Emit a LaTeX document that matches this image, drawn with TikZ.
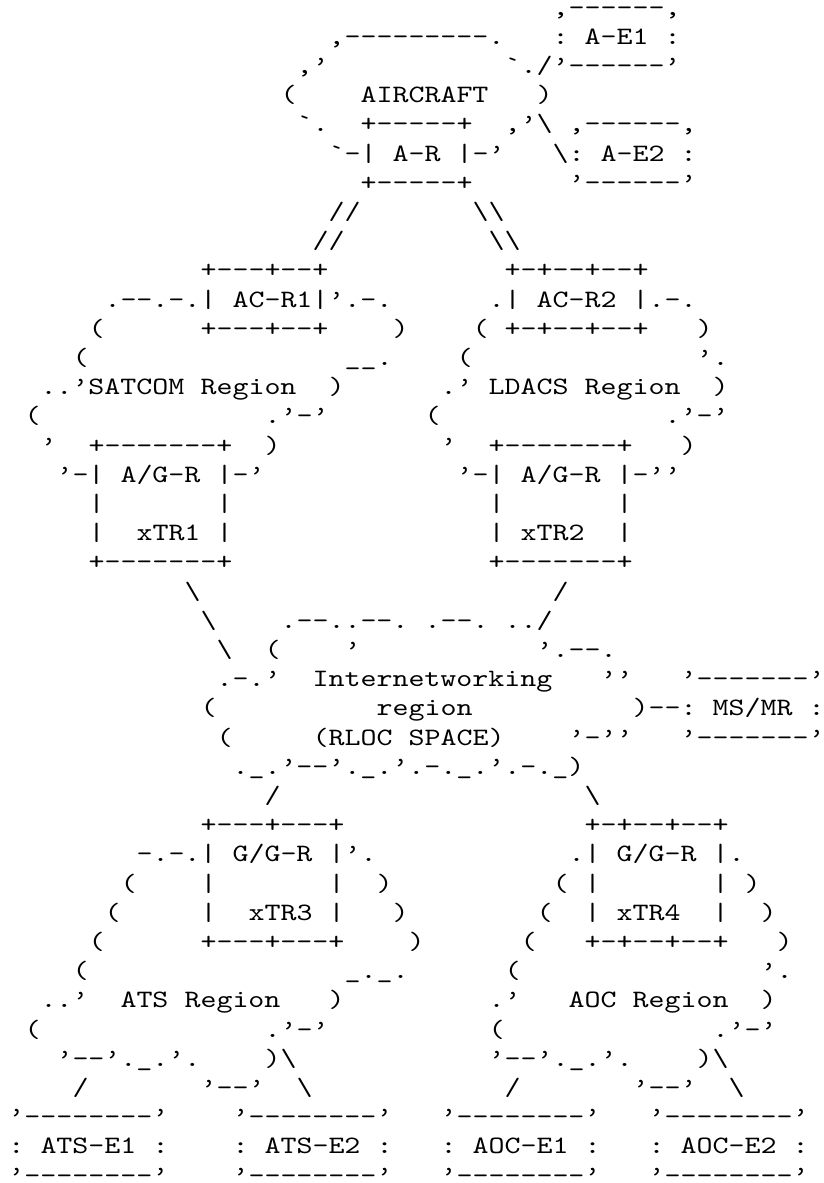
\documentclass[tikz,border=0pt]{standalone}
\usepackage{fontspec}
\setmonofont{lmmono10-regular.otf}[FakeStretch=1.219]
\newcommand\asciibs{\textbackslash}
\tikzset{ch/.style={anchor=base west, inner sep=0pt, outer sep=0pt, text=black,
  text height=14.5pt, text depth=0pt,
  font=\ttfamily\fontsize{25pt}{29pt}\selectfont}}
\newcommand\AR[3]{\node[ch] (r#1c#2) at ({8.5+16*#2},{15+29.2*(#1-1)}) {#3};}
\begin{document}
\begin{tikzpicture}[x=1pt,y=-1pt]
\fill[white] (0,0) rectangle (823,1183);
\useasboundingbox (0,0) rectangle (823,1183);
% AIRCRAFT region
\AR{1}{34}{,------,}
\AR{2}{20}{,---------.}\AR{2}{34}{:}\AR{2}{36}{A-E1}\AR{2}{41}{:}
\AR{3}{18}{,’}\AR{3}{31}{`./’------’}
\AR{4}{17}{(}\AR{4}{22}{AIRCRAFT}\AR{4}{33}{)}
\AR{5}{18}{`.}\AR{5}{22}{+-----+}\AR{5}{31}{,’\asciibs}\AR{5}{35}{,------,}
\AR{6}{20}{`-|}\AR{6}{24}{A-R}\AR{6}{28}{|-’}\AR{6}{34}{\asciibs:}\AR{6}{37}{A-E2}\AR{6}{42}{:}
\AR{7}{22}{+-----+}\AR{7}{35}{’------’}
\AR{8}{20}{//}\AR{8}{29}{\asciibs\asciibs}
\AR{9}{19}{//}\AR{9}{30}{\asciibs\asciibs}
% SATCOM and LDACS regions
\AR{10}{12}{+---+--+}\AR{10}{31}{+-+--+--+}
\AR{11}{6}{.--.-.|}\AR{11}{14}{AC-R1|’.-.}\AR{11}{30}{.|}\AR{11}{33}{AC-R2}\AR{11}{39}{|.-.}
\AR{12}{5}{(}\AR{12}{12}{+---+--+}\AR{12}{24}{)}\AR{12}{29}{(}\AR{12}{31}{+-+--+--+}\AR{12}{43}{)}
\AR{13}{4}{(}\AR{13}{21}{\_\_.}\AR{13}{28}{(}\AR{13}{43}{’.}
\AR{14}{2}{..’SATCOM}\AR{14}{12}{Region}\AR{14}{20}{)}\AR{14}{27}{.’}\AR{14}{30}{LDACS}\AR{14}{36}{Region}\AR{14}{44}{)}
\AR{15}{1}{(}\AR{15}{16}{.’-’}\AR{15}{26}{(}\AR{15}{41}{.’-’}
\AR{16}{2}{’}\AR{16}{5}{+-------+}\AR{16}{16}{)}\AR{16}{27}{’}\AR{16}{30}{+-------+}\AR{16}{42}{)}
\AR{17}{3}{’-|}\AR{17}{7}{A/G-R}\AR{17}{13}{|-’}\AR{17}{28}{’-|}\AR{17}{32}{A/G-R}\AR{17}{38}{|-’’}
\AR{18}{5}{|}\AR{18}{13}{|}\AR{18}{30}{|}\AR{18}{38}{|}
\AR{19}{5}{|}\AR{19}{8}{xTR1}\AR{19}{13}{|}\AR{19}{30}{|}\AR{19}{32}{xTR2}\AR{19}{38}{|}
\AR{20}{5}{+-------+}\AR{20}{30}{+-------+}
% Internetworking region
\AR{21}{11}{\asciibs}\AR{21}{34}{/}
\AR{22}{12}{\asciibs}\AR{22}{17}{.--..--.}\AR{22}{26}{.--.}\AR{22}{31}{../}
\AR{23}{13}{\asciibs}\AR{23}{16}{(}\AR{23}{21}{’}\AR{23}{33}{’.--.}
\AR{24}{13}{.-.’}\AR{24}{19}{Internetworking}\AR{24}{37}{’’}\AR{24}{42}{’-------’}
\AR{25}{12}{(}\AR{25}{23}{region}\AR{25}{39}{)--:}\AR{25}{44}{MS/MR}\AR{25}{50}{:}
\AR{26}{13}{(}\AR{26}{19}{(RLOC}\AR{26}{25}{SPACE)}\AR{26}{35}{’-’’}\AR{26}{42}{’-------’}
\AR{27}{14}{.\_.’--’.\_.’.-.\_.’.-.\_)}
\AR{28}{16}{/}\AR{28}{36}{\asciibs}
% ATS and AOC regions
\AR{29}{12}{+---+---+}\AR{29}{36}{+-+--+--+}
\AR{30}{8}{-.-.|}\AR{30}{14}{G/G-R}\AR{30}{20}{|’.}\AR{30}{35}{.|}\AR{30}{38}{G/G-R}\AR{30}{44}{|.}
\AR{31}{7}{(}\AR{31}{12}{|}\AR{31}{20}{|}\AR{31}{23}{)}\AR{31}{34}{(}\AR{31}{36}{|}\AR{31}{44}{|}\AR{31}{46}{)}
\AR{32}{6}{(}\AR{32}{12}{|}\AR{32}{15}{xTR3}\AR{32}{20}{|}\AR{32}{24}{)}\AR{32}{33}{(}\AR{32}{36}{|}\AR{32}{38}{xTR4}\AR{32}{44}{|}\AR{32}{47}{)}
\AR{33}{5}{(}\AR{33}{12}{+---+---+}\AR{33}{25}{)}\AR{33}{32}{(}\AR{33}{36}{+-+--+--+}\AR{33}{48}{)}
\AR{34}{4}{(}\AR{34}{21}{\_.\_.}\AR{34}{31}{(}\AR{34}{47}{’.}
\AR{35}{2}{..’}\AR{35}{7}{ATS}\AR{35}{11}{Region}\AR{35}{20}{)}\AR{35}{30}{.’}\AR{35}{35}{AOC}\AR{35}{39}{Region}\AR{35}{47}{)}
\AR{36}{1}{(}\AR{36}{16}{.’-’}\AR{36}{30}{(}\AR{36}{44}{.’-’}
\AR{37}{3}{’--’.\_.’.}\AR{37}{16}{)\asciibs}\AR{37}{30}{’--’.\_.’.}\AR{37}{43}{)\asciibs}
\AR{38}{4}{/}\AR{38}{12}{’--’}\AR{38}{18}{\asciibs}\AR{38}{31}{/}\AR{38}{39}{’--’}\AR{38}{45}{\asciibs}
% end systems
\AR{39}{0}{’--------’}\AR{39}{14}{’--------’}\AR{39}{27}{’--------’}\AR{39}{40}{’--------’}
\AR{40}{0}{:}\AR{40}{2}{ATS-E1}\AR{40}{9}{:}
\AR{40}{14}{:}\AR{40}{16}{ATS-E2}\AR{40}{23}{:}
\AR{40}{27}{:}\AR{40}{29}{AOC-E1}\AR{40}{36}{:}
\AR{40}{40}{:}\AR{40}{42}{AOC-E2}\AR{40}{49}{:}
\AR{41}{0}{’--------’}\AR{41}{14}{’--------’}\AR{41}{27}{’--------’}\AR{41}{40}{’--------’}
\end{tikzpicture}
\end{document}
